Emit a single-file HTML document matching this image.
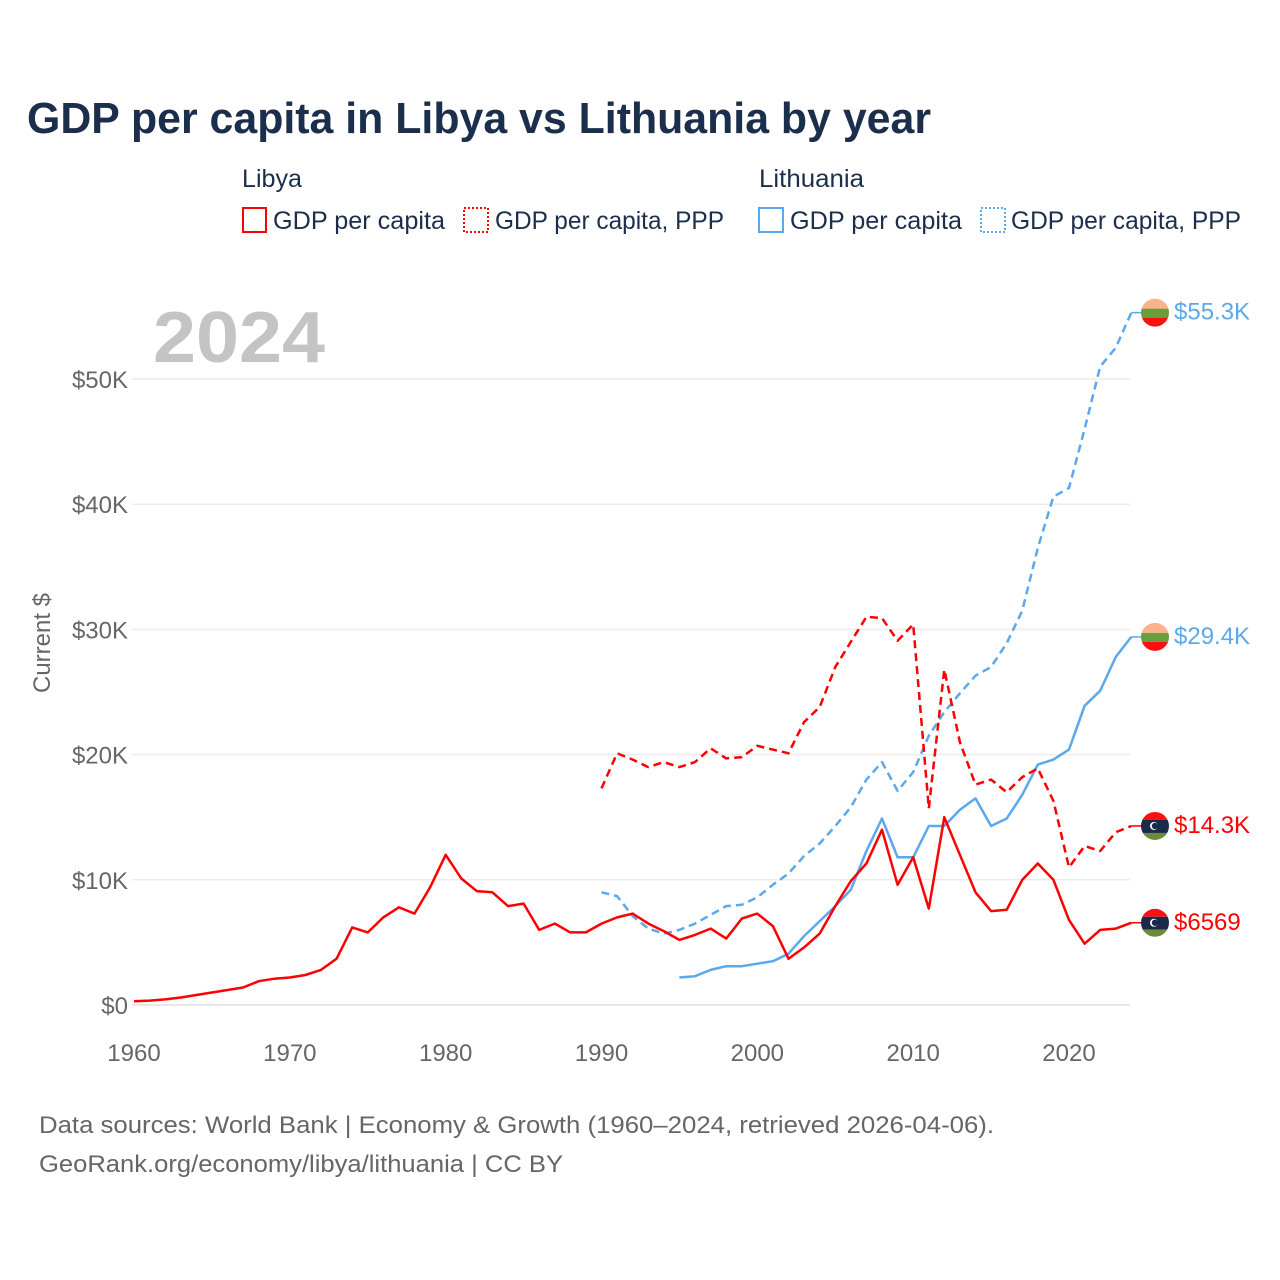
<!DOCTYPE html>
<html><head><meta charset="utf-8">
<style>
html,body{margin:0;padding:0;background:#fff;}
svg{display:block;font-family:"Liberation Sans",sans-serif;}
</style></head>
<body>
<svg id="chart" width="1280" height="1280" viewBox="0 0 1280 1280">
  <text x="27" y="133" font-size="44" font-weight="bold" fill="#1b2e4b" textLength="904" lengthAdjust="spacingAndGlyphs">GDP per capita in Libya vs Lithuania by year</text>
  <g font-size="25" fill="#1b2e4b">
    <text x="242" y="187" textLength="60" lengthAdjust="spacingAndGlyphs">Libya</text>
    <g>
      <rect x="243" y="208" width="23" height="24" fill="none" stroke="#ff0000" stroke-width="2"/>
      <text x="273" y="229" textLength="172" lengthAdjust="spacingAndGlyphs">GDP per capita</text>
    </g>
    <g>
      <rect x="464" y="208" width="24" height="24" fill="none" stroke="#ff0000" stroke-width="2" stroke-dasharray="2,2"/>
      <text x="495" y="229" textLength="229" lengthAdjust="spacingAndGlyphs">GDP per capita, PPP</text>
    </g>
    <text x="759" y="187" textLength="105" lengthAdjust="spacingAndGlyphs">Lithuania</text>
    <g>
      <rect x="759" y="208" width="24" height="24" fill="none" stroke="#5ba8ec" stroke-width="2"/>
      <text x="790" y="229" textLength="172" lengthAdjust="spacingAndGlyphs">GDP per capita</text>
    </g>
    <g>
      <rect x="981" y="208" width="24" height="24" fill="none" stroke="#5ba8ec" stroke-width="2" stroke-dasharray="2,2"/>
      <text x="1011" y="229" textLength="230" lengthAdjust="spacingAndGlyphs">GDP per capita, PPP</text>
    </g>
  </g>
  <text x="153" y="362" font-size="72" font-weight="bold" fill="#c4c4c6" textLength="172" lengthAdjust="spacingAndGlyphs">2024</text>
  <text transform="translate(50,643) rotate(-90)" text-anchor="middle" font-size="24" fill="#666">Current $</text>
  <g id="grid"></g>
  <g id="series"></g>
  <g id="ends"></g>
  <text x="39" y="1133" font-size="24" fill="#666" textLength="955" lengthAdjust="spacingAndGlyphs">Data sources: World Bank | Economy &amp; Growth (1960–2024, retrieved 2026-04-06).</text>
  <text x="39" y="1172" font-size="24" fill="#666" textLength="524" lengthAdjust="spacingAndGlyphs">GeoRank.org/economy/libya/lithuania | CC BY</text>
</svg>
<script>
const yTicks = [0, 10000, 20000, 30000, 40000, 50000];
const yTickLabels = ["$0", "$10K", "$20K", "$30K", "$40K", "$50K"];
const xTicks = [1960, 1970, 1980, 1990, 2000, 2010, 2020];
const libyaGdpStart = 1960;
const libyaGdp = [300,350,450,600,800,1000,1200,1400,1900,2100,2200,2400,2800,3700,6200,5800,7000,7800,7300,9400,12000,10100,9100,9000,7900,8100,6000,6500,5800,5800,6500,7000,7300,6500,5900,5200,5600,6100,5300,6900,7300,6300,3700,4600,5700,7900,9900,11300,14000,9600,11800,7700,15000,12000,9000,7500,7600,10000,11300,10000,6800,4900,6000,6100,6569];
const libyaPppStart = 1990;
const libyaPpp = [17300,20100,19600,19000,19400,19000,19400,20500,19700,19800,20700,20400,20100,22600,23800,27000,29000,31000,30900,29100,30400,15700,26800,21000,17600,18000,17000,18200,18900,16300,11000,12700,12300,13800,14300];
const ltuGdpStart = 1995;
const ltuGdp = [2200,2300,2800,3100,3100,3300,3500,4100,5500,6700,7900,9200,12300,14900,11800,11800,14300,14300,15600,16500,14300,14900,16800,19200,19600,20400,23900,25100,27800,29400];
const ltuPppStart = 1990;
const ltuPpp = [9000,8700,7100,6100,5700,6000,6500,7200,7900,8000,8600,9600,10500,11900,12900,14300,15800,18000,19400,17100,18600,21500,23400,24900,26300,27000,28900,31500,36500,40600,41300,46000,51000,52500,55300];
const endLabels = ["$6569", "$14.3K", "$29.4K", "$55.3K"];

const NS = "http://www.w3.org/2000/svg";
const X0 = 134, XPER = (1069 - 134) / 60, Y0 = 1005, YPER = 125.2 / 10000;
function xs(yr){ return X0 + (yr - 1960) * XPER; }
function ys(v){ return Y0 - v * YPER; }
function mk(tag, attrs, parent){ const e = document.createElementNS(NS, tag); for (const k in attrs) e.setAttribute(k, attrs[k]); parent.appendChild(e); return e; }

const grid = document.getElementById('grid');
yTicks.forEach((t, i) => {
  const l = mk('line', {x1: 132, x2: 1130, y1: ys(t), y2: ys(t), stroke: i === 0 ? '#e0e0e0' : '#ececec', 'stroke-width': 1.5}, grid);
  
  
  const tx = mk('text', {x: 128, y: ys(t) + 9, 'text-anchor': 'end', 'font-size': 24, fill: '#666'}, grid);
  tx.textContent = yTickLabels[i];
  
  
});
xTicks.forEach(t => {
  const tx = mk('text', {x: xs(t), y: 1061, 'text-anchor': 'middle', 'font-size': 24, fill: '#666'}, grid);
  tx.textContent = String(t);
  
  
});

const series = document.getElementById('series');
function drawLine(start, vals, color, dash, name){
  const d = vals.map((v, i) => (i ? 'L' : 'M') + xs(start + i).toFixed(1) + ' ' + ys(v).toFixed(1)).join(' ');
  const p = mk('path', {d: d, fill: 'none', stroke: color, 'stroke-width': 2.5, 'stroke-linejoin': 'round'}, series);
  if (dash) p.setAttribute('stroke-dasharray', '8,5');
  
  
}
drawLine(ltuPppStart, ltuPpp, '#5ba8ec', true, 'line-lithuania-ppp');
drawLine(ltuGdpStart, ltuGdp, '#5ba8ec', false, 'line-lithuania-gdp');
drawLine(libyaPppStart, libyaPpp, '#ff0000', true, 'line-libya-ppp');
drawLine(libyaGdpStart, libyaGdp, '#ff0000', false, 'line-libya-gdp');

const ends = document.getElementById('ends');
const endSeries = [[libyaGdp, '#ff0000', 'libya'], [libyaPpp, '#ff0000', 'libya'], [ltuGdp, '#5ba8ec', 'lithuania'], [ltuPpp, '#5ba8ec', 'lithuania']];
endSeries.forEach((s, i) => {
  const v = s[0][s[0].length - 1];
  const y = ys(v), cx = 1155;
  const ln = mk('line', {x1: xs(2024), x2: cx - 12, y1: y, y2: y, stroke: s[1], 'stroke-width': 1.5}, ends);
  
  
  const g = mk('g', {}, ends);
  
  
  const cid = 'clip' + i;
  const cp = mk('clipPath', {id: cid}, g);
  mk('circle', {cx: cx, cy: y, r: 14}, cp);
  const fg = mk('g', {'clip-path': 'url(#' + cid + ')'}, g);
  if (s[2] === 'lithuania') {
    mk('rect', {x: cx - 14, y: y - 14, width: 28, height: 10, fill: '#fdb28c'}, fg);
    mk('rect', {x: cx - 14, y: y - 4, width: 28, height: 9, fill: '#6a9e3d'}, fg);
    mk('rect', {x: cx - 14, y: y + 5, width: 28, height: 10, fill: '#ff1010'}, fg);
  } else {
    mk('rect', {x: cx - 14, y: y - 14, width: 28, height: 8, fill: '#ff1010'}, fg);
    mk('rect', {x: cx - 14, y: y - 6, width: 28, height: 13, fill: '#1a2a4a'}, fg);
    mk('rect', {x: cx - 14, y: y + 7, width: 28, height: 8, fill: '#6b8a3a'}, fg);
    mk('circle', {cx: cx - 1, cy: y, r: 4, fill: '#fff'}, fg);
    mk('circle', {cx: cx, cy: y, r: 3.2, fill: '#1a2a4a'}, fg);
  }
  const t = mk('text', {x: 1174, y: y + 7, 'font-size': 24, fill: s[1]}, ends);
  t.textContent = endLabels[i];
  
  
});
</script>
</body></html>
